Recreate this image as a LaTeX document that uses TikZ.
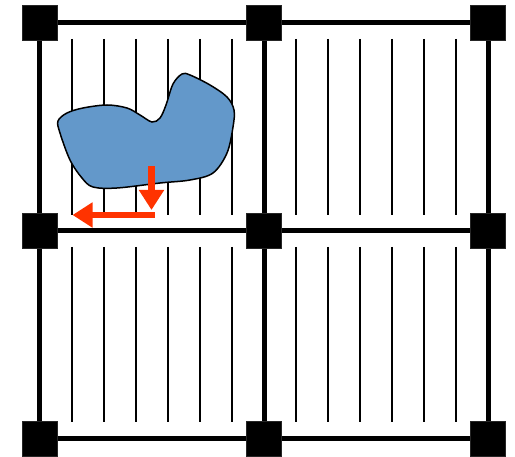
\documentclass[tikz,border=0pt]{standalone}
\usetikzlibrary{arrows.meta}
\definecolor{blobblue}{RGB}{99,152,202}
\definecolor{arrowred}{RGB}{255,51,0}
\tikzset{
  joint/.style={draw=black!85, fill=black, minimum size=35pt, inner sep=0pt, line width=0.5pt},
  beam/.style={line width=5pt},
  rib/.style={line width=1.8pt},
  movearrow/.style={draw=arrowred, line width=6.5pt, -{Triangle[length=20pt,width=24pt]}},
}
\begin{document}
\begin{tikzpicture}[x=1pt,y=-1pt]
\useasboundingbox (0,0) rectangle (515,457);
% joint centres
\foreach \i/\x in {1/39.5,2/264,3/488}{
  \foreach \j/\y in {1/22.5,2/231,3/438.5}{
    \coordinate (c-\i-\j) at (\x,\y);
  }
}
% thin ribs
\foreach \x in {72,104,136,168,200,232,296,328,360,392,424,456}{
  \draw[rib] (\x,39) -- (\x,215);
  \draw[rib] (\x,247) -- (\x,422);
}
% beams
\foreach \j in {1,2,3}{
  \draw[beam] (c-1-\j) -- (c-2-\j) -- (c-3-\j);
  \draw[beam] (c-\j-1) -- (c-\j-2) -- (c-\j-3);
}
% joints
\foreach \i in {1,2,3}{
  \foreach \j in {1,2,3}{
    \node[joint] (n-\i-\j) at (c-\i-\j) {};
  }
}
% blob
\draw[fill=blobblue, line width=1.5pt] plot[smooth cycle, tension=0.55] coordinates {
 (67,113) (83,108) (107,105) (127,108) (140,115) (152,122) (160,118) (166,105)
 (173,84) (182,74) (190,75) (210,85) (227,97) (234,110) (233,127) (227,153)
 (213,173) (190,180) (160,183) (117,188) (93,187) (82,178) (70,160) (60,133) (58,121)};
% arrows
\coordinate (a0) at (151.5,166.5);
\coordinate (a1) at (151.5,210);
\coordinate (a2) at (154.5,215);
\coordinate (a3) at (72.5,215);
\draw[movearrow] (a0) -- (a1);
\draw[movearrow] (a2) -- (a3);
\end{tikzpicture}
\end{document}
